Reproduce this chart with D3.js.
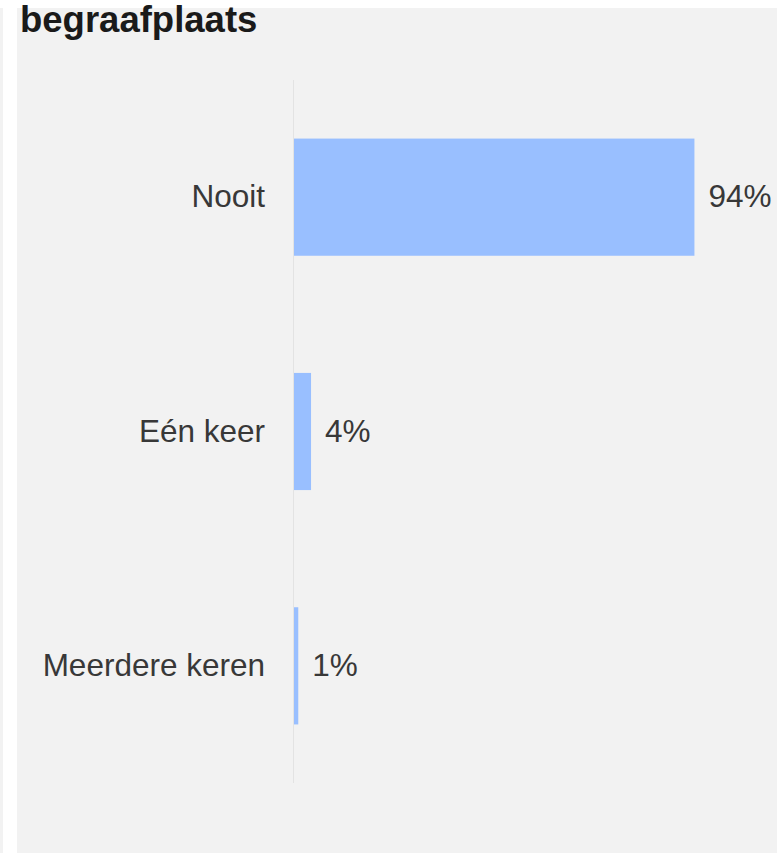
<!DOCTYPE html>
<html>
<head>
<meta charset="utf-8">
<script src="https://cdn.jsdelivr.net/npm/d3@7"></script>
<style>
  html, body { margin: 0; padding: 0; background: #ffffff; }
  svg { display: block; }
</style>
</head>
<body>
<svg id="chart" width="777" height="853"></svg>
<script>
const title = "begraafplaats";
const categories = ["Nooit", "Eén keer", "Meerdere keren"];
const values = [94, 4, 1];
const valueLabels = ["94%", "4%", "1%"];

const W = 777, H = 853;
const svg = d3.select("#chart");

// background strips
svg.append("rect").attr("x", 0).attr("y", 8).attr("width", 3).attr("height", H - 8).attr("fill", "#f2f2f2");
svg.append("rect").attr("x", 17).attr("y", 8).attr("width", W - 17).attr("height", H - 8).attr("fill", "#f2f2f2");

svg.append("text")
  .attr("x", 20).attr("y", 32)
  .attr("font-family", "Liberation Sans, Arial, sans-serif")
  .attr("font-size", 36.5).attr("font-weight", "bold")
  .attr("fill", "#1a1a1a")
  .text(title);

const x0 = 294;
const x = d3.scaleLinear().domain([0, 100]).range([x0, 720]);
const y = d3.scaleBand().domain(categories).range([80, 783])
  .paddingInner(0.5).paddingOuter(0.25);

// axis line
svg.append("line")
  .attr("x1", x0 - 0.5).attr("x2", x0 - 0.5)
  .attr("y1", y.range()[0]).attr("y2", y.range()[1])
  .attr("stroke", "#e3e3e3").attr("stroke-width", 1);

const rows = categories.map((c, i) => ({ c, v: values[i], l: valueLabels[i] }));

svg.selectAll("rect.bar").data(rows).enter().append("rect")
  .attr("class", "bar")
  .attr("x", x(0))
  .attr("y", d => y(d.c))
  .attr("width", d => x(d.v) - x(0))
  .attr("height", y.bandwidth())
  .attr("fill", "#99bfff");

const font = "Liberation Sans, Arial, sans-serif";

svg.selectAll("text.cat").data(rows).enter().append("text")
  .attr("class", "cat")
  .attr("x", x0 - 29)
  .attr("y", d => y(d.c) + y.bandwidth() / 2)
  .attr("dy", "0.32em")
  .attr("text-anchor", "end")
  .attr("font-family", font).attr("font-size", 31.5)
  .attr("fill", "#383838")
  .text(d => d.c);

svg.selectAll("text.val").data(rows).enter().append("text")
  .attr("class", "val")
  .attr("x", d => x(d.v) + 14)
  .attr("y", d => y(d.c) + y.bandwidth() / 2)
  .attr("dy", "0.32em")
  .attr("font-family", font).attr("font-size", 31.5)
  .attr("fill", "#383838")
  .text(d => d.l);
</script>
</body>
</html>
